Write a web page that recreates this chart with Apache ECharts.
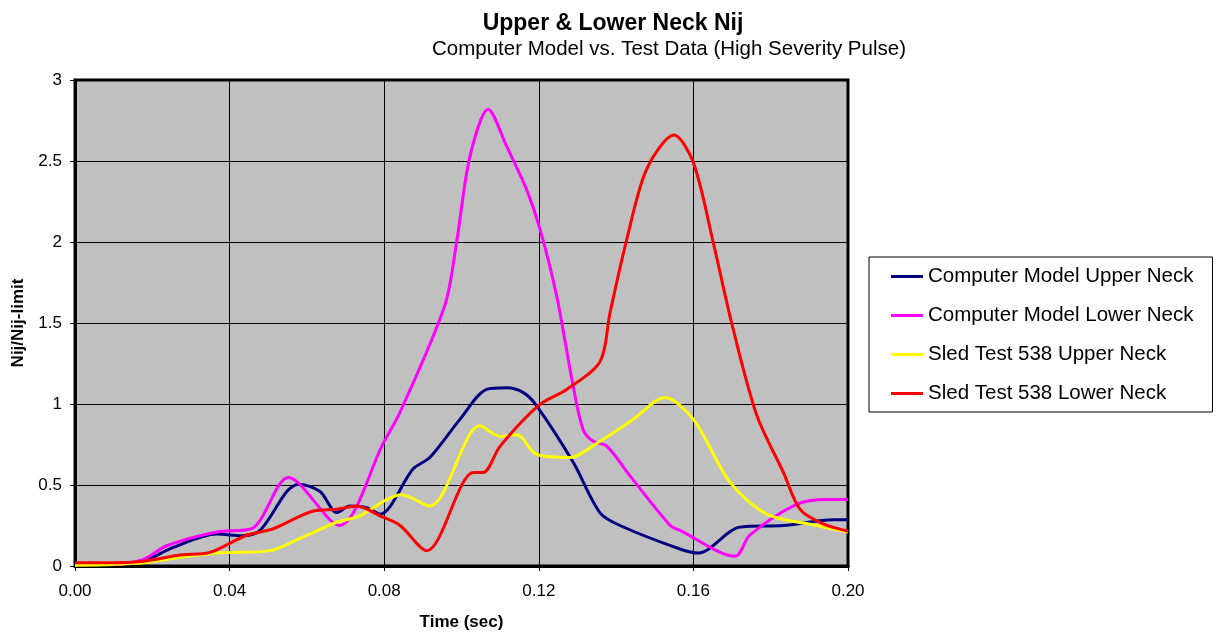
<!DOCTYPE html>
<html><head><meta charset="utf-8">
<script src="https://cdn.jsdelivr.net/npm/echarts@6/dist/echarts.min.js"></script>
<style>html,body{margin:0;padding:0;background:#fff}#c{width:1219px;height:636px}</style>
</head><body><div id="c"></div>
<script>
const seriesNames = ['Computer Model Upper Neck','Computer Model Lower Neck','Sled Test 538 Upper Neck','Sled Test 538 Lower Neck'];
const seriesColors = ['#000080','#FF00FF','#FFFF00','#FF0000'];
const xTicks = [0, 0.04, 0.08, 0.12, 0.16, 0.20];

const cmUpperT = [0,0.01,0.0177,0.025,0.0367,0.0431,0.0479,0.0548,0.0578,0.0634,0.0677,0.0711,0.0755,0.0789,0.0875,0.0918,0.0996,0.1065,0.1117,0.116,0.1194,0.1289,0.1358,0.141,0.1565,0.1613,0.172,0.1833,0.1962,0.2];
const cmUpperV = [0.01,0.01,0.03,0.11,0.197,0.187,0.22,0.46,0.505,0.46,0.33,0.37,0.36,0.32,0.6,0.67,0.905,1.09,1.10,1.07,0.99,0.64,0.33,0.25,0.105,0.08,0.24,0.25,0.285,0.285];

const cmLowerT = [0,0.01,0.0177,0.0237,0.0367,0.0457,0.0552,0.0684,0.0798,0.0841,0.0957,0.0988,0.1022,0.1069,0.1117,0.1169,0.1203,0.1246,0.1289,0.1315,0.1341,0.1376,0.1436,0.154,0.1565,0.1708,0.1746,0.1867,0.1945,0.2];
const cmLowerV = [0.01,0.01,0.04,0.125,0.21,0.23,0.546,0.25,0.76,0.95,1.61,2.01,2.53,2.82,2.59,2.32,2.08,1.67,1.11,0.84,0.77,0.74,0.556,0.25,0.22,0.06,0.19,0.38,0.41,0.41];

const stUpperT = [0,0.01,0.0177,0.0246,0.0367,0.0505,0.0582,0.0677,0.0737,0.0806,0.0845,0.0918,0.1048,0.11,0.1143,0.1194,0.1281,0.1358,0.1444,0.1526,0.16,0.1695,0.179,0.1919,0.2];
const stUpperV = [0.005,0.01,0.02,0.045,0.08,0.095,0.17,0.27,0.31,0.41,0.44,0.37,0.865,0.80,0.81,0.69,0.67,0.77,0.905,1.04,0.905,0.516,0.32,0.25,0.21];

const stLowerT = [0,0.01,0.0177,0.0272,0.0349,0.0444,0.0513,0.0617,0.0677,0.0729,0.0789,0.0841,0.091,0.1031,0.1056,0.11,0.1199,0.1272,0.1358,0.1384,0.1427,0.1479,0.155,0.16,0.1652,0.1699,0.1764,0.1833,0.1876,0.1936,0.2];
const stLowerV = [0.02,0.02,0.03,0.068,0.084,0.19,0.23,0.34,0.35,0.37,0.31,0.25,0.094,0.577,0.577,0.74,0.99,1.09,1.26,1.56,2.01,2.45,2.66,2.49,1.99,1.50,0.93,0.577,0.35,0.26,0.215];

const tSets = [cmUpperT, cmLowerT, stUpperT, stLowerT];
const vSets = [cmUpperV, cmLowerV, stUpperV, stLowerV];

const font = 'Liberation Sans, Arial, sans-serif';
const chart = echarts.init(document.getElementById('c'), null, {renderer:'canvas'});
chart.setOption({
  animation: false,
  backgroundColor: '#fff',
  title: [
    {text: 'Upper & Lower Neck Nij', left: 608, top: 7, textAlign: 'center',
     textStyle: {fontFamily: font, fontSize: 23, fontWeight: 'bold', color: '#000'}},
    {text: 'Computer Model vs. Test Data (High Severity Pulse)', left: 664, top: 34, textAlign: 'center',
     textStyle: {fontFamily: font, fontSize: 20.5, fontWeight: 'normal', color: '#000'}}
  ],
  grid: {left: 75, top: 80, right: 371, bottom: 69, show: true, backgroundColor: '#C0C0C0', borderColor: '#000', borderWidth: 3},
  legend: {
    orient: 'vertical', left: 869, top: 257,
    data: seriesNames,
    icon: 'rect', itemWidth: 32, itemHeight: 3, itemGap: 18,
    borderColor: '#000', borderWidth: 1, padding: [9, 19, 8, 22],
    textStyle: {fontFamily: font, fontSize: 20.5, color: '#000', lineHeight: 20},
    backgroundColor: '#fff'
  },
  xAxis: {
    type: 'value', min: 0, max: 0.2, interval: 0.04,
    name: 'Time (sec)', nameLocation: 'middle', nameGap: 48,
    nameTextStyle: {fontFamily: font, fontSize: 17, fontWeight: 'bold', color: '#000'},
    axisLine: {show: true, lineStyle: {color: '#000', width: 3}},
    axisTick: {show: true, length: 5, lineStyle: {color: '#000'}},
    axisLabel: {fontFamily: font, fontSize: 17, color: '#000', margin: 17,
      formatter: v => xTicks.includes(+v.toFixed(2)) ? v.toFixed(2) : ''},
    splitLine: {show: true, lineStyle: {color: '#000', width: 1}}
  },
  yAxis: {
    type: 'value', min: 0, max: 3, interval: 0.5,
    name: 'Nij/Nij-limit', nameLocation: 'middle', nameGap: 48, nameRotate: 90,
    nameTextStyle: {fontFamily: font, fontSize: 17, fontWeight: 'bold', color: '#000'},
    axisLine: {show: true, lineStyle: {color: '#000', width: 3}},
    axisTick: {show: true, length: 5, lineStyle: {color: '#000'}},
    axisLabel: {fontFamily: font, fontSize: 17, color: '#000', margin: 13},
    splitLine: {show: true, lineStyle: {color: '#000', width: 1}}
  },
  series: seriesNames.map((n, i) => ({
    name: n, type: 'line', smooth: 0.3, showSymbol: false, symbol: 'none',
    lineStyle: {color: seriesColors[i], width: 3}, itemStyle: {color: seriesColors[i]},
    data: tSets[i].map((t, j) => [t, vSets[i][j]])
  }))
});
</script></body></html>
